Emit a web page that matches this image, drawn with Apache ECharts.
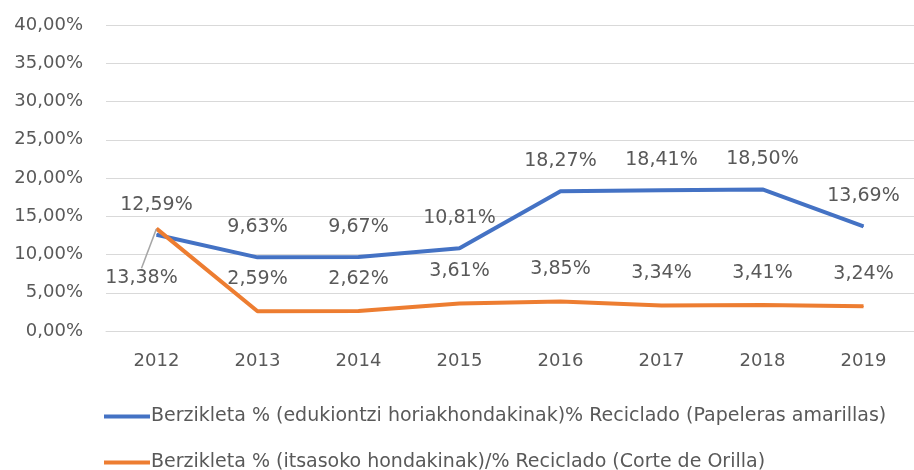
<!DOCTYPE html>
<html><head><meta charset="utf-8">
<script src="https://cdn.jsdelivr.net/npm/echarts@6/dist/echarts.min.js"></script>
<style>html,body{margin:0;padding:0;background:#fff}#c{width:914px;height:470px}</style>
</head><body><div id="c"></div>
<script>
const years = ['2012','2013','2014','2015','2016','2017','2018','2019'];
const seriesNames = [
  'Berzikleta % (edukiontzi horiakhondakinak)% Reciclado (Papeleras amarillas)',
  'Berzikleta % (itsasoko hondakinak)/% Reciclado (Corte de Orilla)'
];
const yellowBins = [12.59, 9.63, 9.67, 10.81, 18.27, 18.41, 18.50, 13.69];
const shoreCut = [13.38, 2.59, 2.62, 3.61, 3.85, 3.34, 3.41, 3.24];
const yTicks = {min: 0, max: 40, interval: 5};

const fmt = v => v.toFixed(2).replace('.', ',') + '%';
const font = 'DejaVu Sans';
const txt = '#595959';

const chart = echarts.init(document.getElementById('c'));
const shoreData = shoreCut.map((v, i) => i === 0
  ? {value: v, labelLine: {show: true, lineStyle: {color: '#a6a6a6', width: 1.5}}}
  : v);

const legendBase = {
  orient: 'vertical', left: 99, itemWidth: 46, itemHeight: 4, icon: 'rect',
  textStyle: {color: txt, fontSize: 19, fontFamily: font, padding: [0,0,0,-4]}
};

chart.setOption({
  animation: false,
  textStyle: {fontFamily: font},
  grid: {left: 106, right: 0, top: 25, bottom: 139},
  xAxis: {
    type: 'category', data: years, boundaryGap: true,
    axisLine: {show: true, lineStyle: {color: '#d9d9d9'}},
    axisTick: {show: false},
    axisLabel: {color: txt, fontSize: 18, fontFamily: font, margin: 21}
  },
  yAxis: {
    type: 'value', min: yTicks.min, max: yTicks.max, interval: yTicks.interval,
    axisLabel: {color: txt, fontSize: 18, fontFamily: font, margin: 23, formatter: v => fmt(v)},
    splitLine: {lineStyle: {color: '#d9d9d9', width: 1}}
  },
  legend: [
    Object.assign({}, legendBase, {top: 402, data: [seriesNames[0]]}),
    Object.assign({}, legendBase, {top: 448, data: [seriesNames[1]]})
  ],
  series: [
    {
      name: seriesNames[0], type: 'line', data: yellowBins,
      symbol: 'circle', symbolSize: 1, showSymbol: true,
      lineStyle: {color: '#4472C4', width: 4}, itemStyle: {color: '#4472C4'},
      label: {show: true, position: 'top', distance: 20, color: txt, fontSize: 19, fontFamily: font, formatter: p => fmt(p.value)}
    },
    {
      name: seriesNames[1], type: 'line', data: shoreData,
      symbol: 'circle', symbolSize: 1, showSymbol: true,
      lineStyle: {color: '#ED7D31', width: 4}, itemStyle: {color: '#ED7D31'},
      label: {show: true, position: 'top', distance: 22, color: txt, fontSize: 19, fontFamily: font, formatter: p => fmt(p.value)},
      labelLine: {show: false},
      labelLayout: p => p.dataIndex === 0 ? {dx: -15, dy: 81, moveOverlap: false} : {}
    }
  ]
});
</script></body></html>
